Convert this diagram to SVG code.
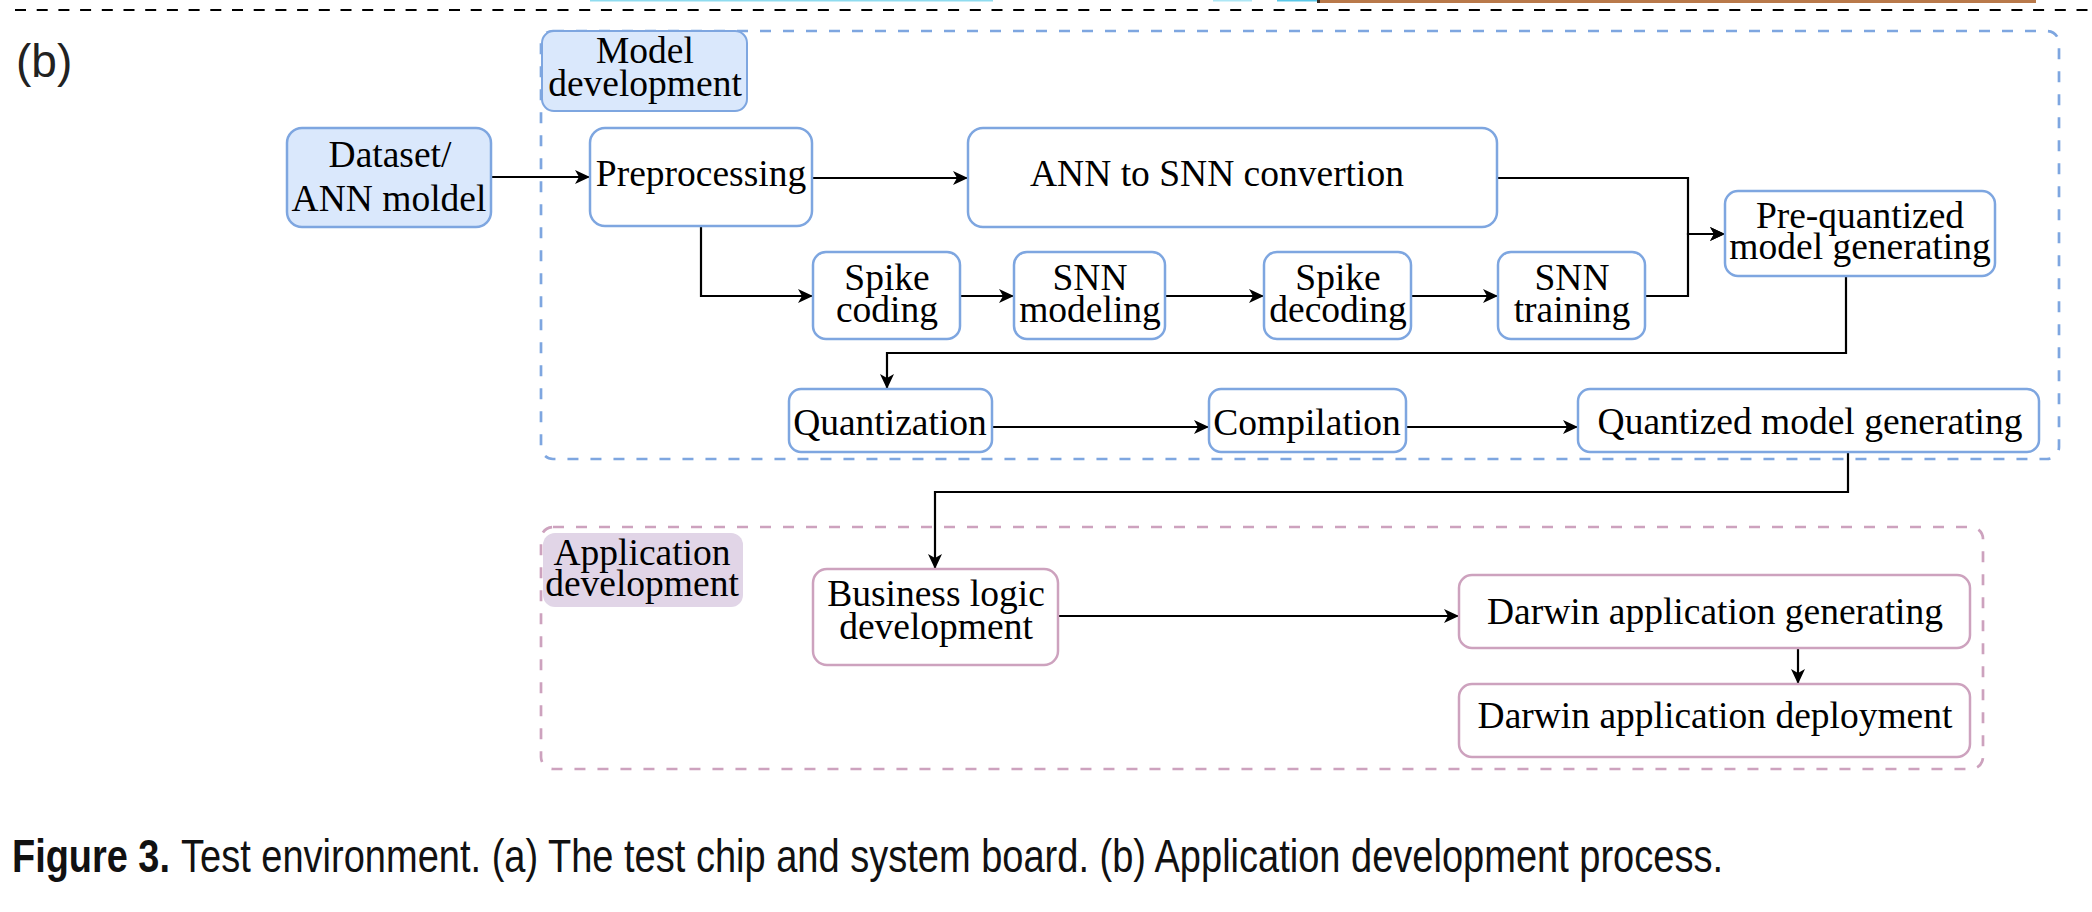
<svg xmlns="http://www.w3.org/2000/svg" width="2092" height="912" viewBox="0 0 2092 912">
<style>
.t{font-family:"Liberation Serif","Times New Roman",serif;font-size:37.5px;fill:#000;text-anchor:middle}
.bn{fill:#fff;stroke:#7EA6E0;stroke-width:2.5}
.pn{fill:#fff;stroke:#CDA2BE;stroke-width:2.5}
.c{fill:none;stroke:#000;stroke-width:2.2;marker-end:url(#arr)}
</style>
<defs>
<marker id="arr" markerUnits="userSpaceOnUse" markerWidth="16" markerHeight="16" refX="15" refY="7" orient="auto">
<path d="M0,0 L15,7 L0,14 L4,7 Z" fill="#000"/>
</marker>
</defs>
<rect width="2092" height="912" fill="#fff"/>
<g id="top-remnants">
<rect x="590" y="0" width="403" height="1.5" fill="#8fdcef"/>
<rect x="1213" y="0" width="39" height="1.5" fill="#aee7f5"/>
<rect x="1277" y="0" width="40" height="1.5" fill="#5bc8e8"/>
<rect x="1317" y="0" width="719" height="3" fill="#b9794a"/>
<rect x="1317" y="0" width="3" height="3" fill="#3a2a20"/>
<line x1="15" y1="10" x2="2092" y2="10" stroke="#000" stroke-width="2.2" stroke-dasharray="11 10.7"/>
</g>
<text x="16" y="77" font-family="Liberation Sans, Arial, sans-serif" font-size="46" fill="#222">(b)</text>
<g id="model-development-group">
<rect x="541" y="31" width="1518" height="428" rx="12" fill="none" stroke="#7EA6E0" stroke-width="2.7" stroke-dasharray="11 12"/>
</g>
<g id="application-development-group">
<rect x="541" y="527" width="1442" height="242" rx="12" fill="none" stroke="#CDA2BE" stroke-width="2.7" stroke-dasharray="11 12"/>
</g>
<g id="label-model-development">
<rect x="542" y="31" width="205" height="80" rx="12" fill="#dae8fc" stroke="#7EA6E0" stroke-width="2"/>
<text class="t" x="645" y="63">Model</text>
<text class="t" x="645" y="96">development</text>
</g>
<g id="label-application-development">
<rect x="543" y="533" width="200" height="74" rx="12" fill="#e1d5e7" stroke="none"/>
<text class="t" x="642" y="565">Application</text>
<text class="t" x="642" y="596">development</text>
</g>
<g id="connectors">
<path class="c" d="M491,177 H590"/>
<path class="c" d="M812,178 H968"/>
<path class="c" d="M701,227 V296 H813"/>
<path class="c" d="M960,296 H1014"/>
<path class="c" d="M1165,296 H1264"/>
<path class="c" d="M1411,296 H1498"/>
<path class="c" d="M1497,178 H1688 V234 H1725"/>
<path class="c" d="M1645,296 H1688 V234 H1725"/>
<path class="c" d="M1846,276 V353 H887 V389"/>
<path class="c" d="M992,427 H1209"/>
<path class="c" d="M1406,427 H1578"/>
<path class="c" d="M1848,452 V492 H935 V569"/>
<path class="c" d="M1058,616 H1459"/>
<path class="c" d="M1798,648 V684"/>
</g>
<g id="dataset">
<rect x="287" y="128" width="204" height="99" rx="15" fill="#dae8fc" stroke="#7EA6E0" stroke-width="2.5"/>
<text class="t" x="390" y="167">Dataset/</text>
<text class="t" x="389" y="211">ANN moldel</text>
</g>
<g id="preprocessing">
<rect class="bn" x="590" y="128" width="222" height="98" rx="15"/>
<text class="t" x="701" y="186">Preprocessing</text>
</g>
<g id="ann-to-snn">
<rect class="bn" x="968" y="128" width="529" height="99" rx="15"/>
<text class="t" x="1217" y="186">ANN to SNN convertion</text>
</g>
<g id="spike-coding">
<rect class="bn" x="813" y="252" width="147" height="87" rx="13"/>
<text class="t" x="887" y="290">Spike</text>
<text class="t" x="887" y="322">coding</text>
</g>
<g id="snn-modeling">
<rect class="bn" x="1014" y="252" width="151" height="87" rx="13"/>
<text class="t" x="1090" y="290">SNN</text>
<text class="t" x="1090" y="322">modeling</text>
</g>
<g id="spike-decoding">
<rect class="bn" x="1264" y="252" width="147" height="87" rx="13"/>
<text class="t" x="1338" y="290">Spike</text>
<text class="t" x="1338" y="322">decoding</text>
</g>
<g id="snn-training">
<rect class="bn" x="1498" y="252" width="147" height="87" rx="13"/>
<text class="t" x="1572" y="290">SNN</text>
<text class="t" x="1572" y="322">training</text>
</g>
<g id="pre-quantized">
<rect class="bn" x="1725" y="191" width="270" height="85" rx="13"/>
<text class="t" x="1860" y="228">Pre-quantized</text>
<text class="t" x="1860" y="259">model generating</text>
</g>
<g id="quantization">
<rect class="bn" x="789" y="389" width="203" height="63" rx="12"/>
<text class="t" x="890" y="435">Quantization</text>
</g>
<g id="compilation">
<rect class="bn" x="1209" y="389" width="197" height="63" rx="12"/>
<text class="t" x="1307" y="435">Compilation</text>
</g>
<g id="quantized-model">
<rect class="bn" x="1578" y="389" width="461" height="63" rx="12"/>
<text class="t" x="1810" y="434">Quantized model generating</text>
</g>
<g id="business-logic">
<rect class="pn" x="813" y="569" width="245" height="96" rx="14"/>
<text class="t" x="936" y="606">Business logic</text>
<text class="t" x="936" y="639">development</text>
</g>
<g id="darwin-generating">
<rect class="pn" x="1459" y="575" width="511" height="73" rx="13"/>
<text class="t" x="1715" y="624">Darwin application generating</text>
</g>
<g id="darwin-deployment">
<rect class="pn" x="1459" y="684" width="511" height="73" rx="13"/>
<text class="t" x="1715" y="728">Darwin application deployment</text>
</g>
<g id="caption" font-family="Liberation Sans, Arial, sans-serif" font-size="46" fill="#111">
<text x="12" y="872" font-weight="bold" textLength="158" lengthAdjust="spacingAndGlyphs">Figure 3.</text>
<text x="181" y="872" textLength="1542" lengthAdjust="spacingAndGlyphs">Test environment. (a) The test chip and system board. (b) Application development process.</text>
</g>
</svg>
